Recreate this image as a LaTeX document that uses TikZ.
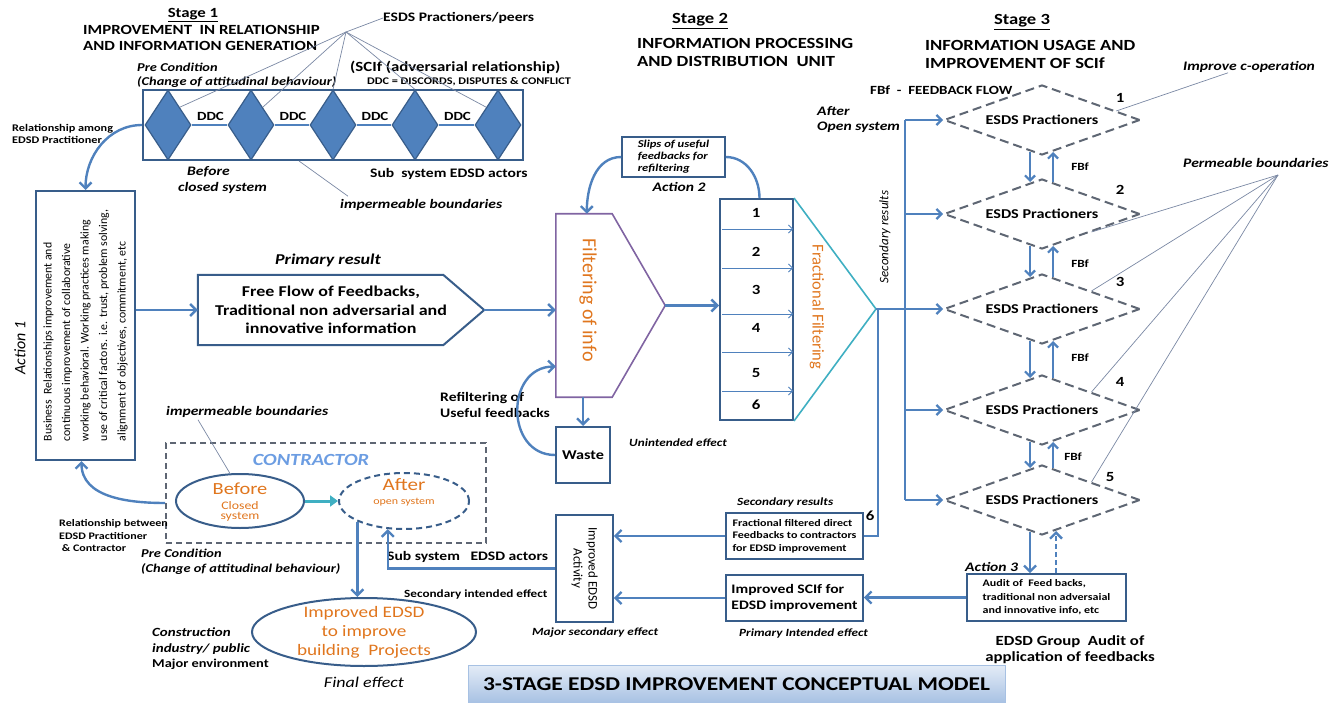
\documentclass[tikz,border=0pt]{standalone}
\usepackage{fontspec}
\setmainfont{Carlito}[FakeStretch=1.2]
\newfontfamily\plainfont{Carlito}
\usetikzlibrary{positioning,shapes.geometric,arrows.meta,calc}
\definecolor{ebBlue}{HTML}{4F81BD}
\definecolor{ebDark}{HTML}{385D8A}
\definecolor{ebGray}{HTML}{5E6673}
\definecolor{ebThin}{HTML}{7A88A3}
\definecolor{ebTeal}{HTML}{3FAFC2}
\definecolor{ebPurple}{HTML}{8064A2}
\definecolor{ebOrange}{HTML}{E0761E}
\definecolor{ebLight}{HTML}{6C9DE2}
\definecolor{ebTitleT}{HTML}{E4ECF7}
\definecolor{ebTitleB}{HTML}{A7C1E3}
\tikzset{
	flow/.style={draw=ebBlue, line width=2.4pt, -{Straight Barb[length=6pt,width=12pt]}},
	flowsm/.style={draw=ebBlue, line width=2.2pt, -{Straight Barb[length=5pt,width=10pt]}},
	flowline/.style={draw=ebBlue, line width=2.4pt},
	thinarrow/.style={draw=ebBlue, line width=0.8pt, -{Straight Barb[length=4pt,width=8pt]}},
	hint/.style={draw=ebThin, line width=0.7pt},
	bx/.style={draw=ebDark, line width=2pt, fill=white, inner sep=2pt},
	ddcdiam/.style={diamond, draw=ebDark, fill=ebBlue, line width=1.2pt, minimum width=46pt, minimum height=70pt, inner sep=0pt},
	esds/.style={diamond, draw=ebGray, dash pattern=on 9pt off 5pt, line width=2pt, minimum width=196pt, minimum height=70pt, aspect=2.8, inner sep=0pt, font=\bfseries\fontsize{13.5}{15}\selectfont},
	lb/.style 2 args={inner sep=0pt, font=\bfseries\fontsize{#1}{#2}\selectfont},
	li/.style 2 args={inner sep=0pt, font=\bfseries\itshape\fontsize{#1}{#2}\selectfont},
	lr/.style 2 args={inner sep=0pt, font=\fontsize{#1}{#2}\selectfont},
	lit/.style 2 args={inner sep=0pt, font=\itshape\fontsize{#1}{#2}\selectfont},
	rr/.style 2 args={inner sep=0pt, font=\plainfont\fontsize{#1}{#2}\selectfont},
	rit/.style 2 args={inner sep=0pt, font=\plainfont\itshape\fontsize{#1}{#2}\selectfont},
	orng/.style 2 args={inner sep=0pt, text=ebOrange, font=\fontsize{#1}{#2}\selectfont}
}
\begin{document}
\begin{tikzpicture}[x=1pt,y=-1pt]
	\useasboundingbox (0,0) rectangle (1343,703);

	\node[lb={14}{18}] (st1) at (193,15) {\underline{Stage 1}};
	\node[lb={14}{18}, anchor=west] (st1a) at (83,30) {IMPROVEMENT\ \ IN RELATIONSHIP};
	\node[lb={14}{18}, anchor=west] (st1b) at (83,46) {AND INFORMATION GENERATION};
	\node[lb={15.5}{18}] (st2) at (700,21) {\underline{Stage 2}};
	\node[lb={15.5}{18}, anchor=west] (st2a) at (637,43) {INFORMATION PROCESSING};
	\node[lb={15.5}{18}, anchor=west] (st2b) at (637,61) {AND DISTRIBUTION\ \ UNIT};
	\node[lb={15.5}{18}] (st3) at (1022,22) {\underline{Stage 3}};
	\node[lb={15.5}{18}, anchor=west] (st3a) at (925,45) {INFORMATION USAGE AND};
	\node[lb={15.5}{18}, anchor=west] (st3b) at (925,63) {IMPROVEMENT OF SCIf};

	\node[lb={13}{15}, anchor=west] (peers) at (383,18) {ESDS Practioners/peers};
	\node[li={12}{14}, anchor=west] (pre1) at (137,67) {Pre Condition};
	\node[li={12}{14}, anchor=west] (pre1b) at (137,82) {(Change of attitudinal behaviour)};
	\node[lb={14}{16}, anchor=west] (scif1) at (350,67) {(SCIf (adversarial relationship)};
	\node[lb={10.2}{12}, anchor=west] (ddckey) at (367,82) {DDC = DISCORDS, DISPUTES \& CONFLICT};
	\node[bx, minimum width=380pt, minimum height=70pt] (s1box) at (333,125) {};
	\foreach \n/\x in {1/168,2/251,3/333,4/415,5/498}
		\node[ddcdiam] (dd\n) at (\x,125) {};
	\foreach \a/\b in {1/2,2/3,3/4,4/5} {
		\draw[ebBlue, line width=2pt] (dd\a.east) -- (dd\b.west);
		\node[lb={12.5}{14}] (ddc\a) at ($(dd\a.east)!0.5!(dd\b.west)+(1,-9)$) {DDC};
	}
	\coordinate (pfan) at (346,32);
	\draw[hint] (pfan) -- (peers.west);
	\foreach \tgt in {dd1.north east, dd2.north east, dd3.north, dd4.north, dd5.north west}
		\draw[hint] (pfan) -- (\tgt);
	\node[lb={10.2}{12.5}, anchor=west, align=left] (rel1) at (12,134) {Relationship among\\EDSD Practitioner};
	\node[li={13}{15}, anchor=west] (bef1) at (187,172) {Before};
	\node[li={13}{15}, anchor=west] (bef1b) at (178,188) {closed system};
	\node[lb={13}{15}, anchor=west] (sub1) at (370,174) {Sub\ \ system EDSD actors};
	\node[li={13}{15}, anchor=west] (imp1) at (340,205) {impermeable boundaries};
	\draw[hint] ($(s1box.south west)+(157,0)$) -- ($(imp1.north west)+(8,-3)$);

	\node[bx, minimum width=99pt, minimum height=269pt] (act1) at (85.5,325.5) {};
	\node[rr={11.8}{18.5}, rotate=90, align=left] (act1txt) at (act1.center) {Business\ \ Relationships improvement and\\continuous improvement of collaborative\\working behavioral. Working practices making\\use of critical factors. i.e. trust, problem solving,\\alignment of objectives, commitment, etc};
	\node[rit={16}{20}, rotate=90] (act1lbl) at (20,348) {Action 1};

	\node[li={15}{17}] (prim) at (328,260) {Primary result};
	\node[lb={15}{18.5}, align=center, minimum width=266pt, minimum height=70pt] (free) at (331,310) {Free Flow of Feedbacks,\\Traditional non adversarial and\\innovative information};
	\draw[ebDark, line width=2pt] (free.north west) -- ($(free.north east)+(-21,0)$) -- ($(free.east)+(20,0)$) coordinate (freetip) -- ($(free.south east)+(-21,0)$) -- (free.south west) -- cycle;

	\node[minimum width=109pt, minimum height=183pt, inner sep=0pt] (filt) at (610.5,305.5) {};
	\draw[ebPurple, line width=1.6pt] (filt.north west) -- ($(filt.north east)+(-53,0)$) -- (filt.east) -- ($(filt.south east)+(-53,0)$) -- (filt.south west) -- cycle;
	\node[rr={20}{24}, text=ebOrange, rotate=-90] (filttxt) at (588,300) {Filtering of info};

	\node[bx, minimum width=103pt, minimum height=40pt, line width=1.6pt, li={10.5}{12}, align=left] (slips) at (673.5,157) {Slips of useful\\feedbacks for\\refiltering};
	\node[li={13}{15}] (act2) at (679,187) {Action 2};

	\node[bx, minimum width=73pt, minimum height=221pt] (frac) at (756.5,309.5) {};
	\coordinate (apex) at (876,309);
	\draw[ebTeal, line width=1.6pt] (frac.north east) -- (apex) -- (frac.south east);
	\foreach \y in {229,268,314,352,391}
		\draw[thinarrow] (722,\y) -- (793,\y);
	\foreach \n/\y in {1/213,2/252,3/290,4/328,5/373,6/405}
		\node[lb={14}{16}] (num\n) at (756,\y) {\n};
	\node[rr={16.5}{19}, text=ebOrange, rotate=-90] (fractxt) at (817,307) {Fractional Filtering};

	\node[bx, minimum width=54pt, minimum height=56pt, lb={13.5}{15}] (waste) at (583,455) {Waste};
	\node[lb={13}{16}, anchor=west, align=left] (refil) at (440,405) {Refiltering of\\Useful feedbacks};
	\node[li={11}{13}, anchor=west] (unint) at (629,443) {Unintended effect};

	\node[lb={12.5}{14}, anchor=west] (fbfkey) at (870,90) {FBf\ \ -\ \ FEEDBACK FLOW};
	\node[li={13}{15}, anchor=west, align=left] (after1) at (817,120) {After\\Open system};
	\node[rit={13}{15}, rotate=90] (secres) at (885,237) {Secondary results};
	\node[li={13}{15}, anchor=west] (impcop) at (1183,67) {Improve c-operation};
	\node[li={13}{15}, anchor=west] (perm) at (1183,163) {Permeable boundaries};

	\foreach \n/\y in {1/120,2/214,3/309,4/410,5/500}
		\node[esds] (es\n) at (1042,\y) {ESDS Practioners};
	\foreach \a/\b in {1/2,2/3,3/4,4/5} {
		\draw[flowsm] ($(es\a.south)+(-12,-4)$) -- ($(es\b.north)+(-12,4)$);
		\draw[flowsm] ($(es\b.north)+(11,4)$) -- ($(es\a.south)+(11,-4)$);
	}
	\foreach \n/\x/\y in {1/1080/167,2/1080/264,3/1080/358,4/1073/457}
		\node[lb={11}{13}] (fbf\n) at (\x,\y) {FBf};
	\foreach \n/\x/\y in {1/1120/98,2/1120/190,3/1120/282,4/1120/382,5/1110/477}
		\node[lb={14}{16}] (esn\n) at (\x,\y) {\n};
	\draw[hint] ($(es1.north east)!0.5!(es1.east)$) -- ($(impcop.south west)+(45,0)$);
	\coordinate (pfan2) at (1278,175);
	\foreach \tgt in {es2.south east, es3.north east, es4.north east, es5.north east}
		\draw[hint] (pfan2) -- (\tgt);

	\coordinate (trunk) at (905,0);
	\draw[flowline] (es1.west -| trunk) -- (es5.west -| trunk);
	\foreach \n in {1,2,4,5}
		\draw[flowsm] (es\n.west -| trunk) -- (es\n.west);
	\draw[flowsm] (apex) -- (es3.west);

	\node[li={11}{13}, anchor=west] (sec2) at (737,503) {Secondary results};
	\node[bx, minimum width=137pt, minimum height=46pt, line width=1.6pt, lb={10}{12.5}, align=left] (ffd) at (794.5,536) {Fractional filtered direct\\Feedbacks to contractors\\for EDSD improvement};
	\node[lb={14}{16}] (six) at (870,516) {6};
	\node[bx, minimum width=137pt, minimum height=46pt, line width=1.6pt, lb={13}{16}, align=left] (scif) at (794.5,598) {Improved SCIf for\\EDSD improvement};
	\node[li={11}{13}, anchor=west] (primint) at (739,633) {Primary Intended effect};
	\node[bx, minimum width=159pt, minimum height=47pt, line width=1.6pt, lb={10}{13.5}, align=left] (audit) at (1046.5,597.5) {Audit of\ \ Feed backs,\\traditional non adversaial\\and innovative info, etc};
	\node[li={13}{15}, anchor=west] (act3) at (965,567) {Action 3};
	\node[lb={14}{16}, align=center] (group) at (1070,650) {EDSD Group\ \ Audit of\\application of feedbacks};

	\node[bx, minimum width=57pt, minimum height=107pt, line width=1.6pt] (act) at (584.5,568.5) {};
	\node[rr={13}{15}, rotate=-90, align=center] (acttxt) at (act.center) {Improved EDSD\\Activity};
	\node[li={11}{13}, anchor=west] (majsec) at (532,633) {Major secondary effect};

	\node[draw=ebGray, dash pattern=on 6pt off 4pt, line width=1.6pt, minimum width=320pt, minimum height=100pt] (cbox) at (326,493) {};
	\node[inner sep=0pt, text=ebLight, font=\bfseries\itshape\fontsize{17}{19}\selectfont] (contr) at (311,460) {CONTRACTOR};
	\node[li={13}{14}, anchor=west] (imp2) at (166,412) {impermeable boundaries};
	\node[ellipse, draw=ebDark, line width=2pt, minimum width=128pt, minimum height=54pt, inner sep=0pt] (before) at (240,501) {};
	\node[orng={17}{19}] (befA) at (240,489) {Before};
	\node[orng={11.5}{13}] (befB) at (240,506) {Closed};
	\node[orng={11.5}{13}] (befC) at (240,517) {system};
	\node[ellipse, draw=ebDark, dash pattern=on 6pt off 4pt, line width=2pt, minimum width=130pt, minimum height=56pt, inner sep=0pt] (after) at (404,501) {};
	\node[orng={17.5}{19}] (aftA) at (404,485) {After};
	\node[orng={10}{12}] (aftB) at (404,502) {open system};
	\draw[ebTeal, line width=3pt, -{Triangle[length=8pt,width=11pt]}] (before.east) -- (after.west);
	\draw[hint] ($(imp2.south west)+(32,2)$) -- (before.110);
	\node[lb={10}{12.5}, anchor=west, align=left] (rel2) at (59,536) {Relationship between\\EDSD Practitioner\\\ \& Contractor};
	\node[li={12}{15}, anchor=west, align=left] (pre2) at (141,562) {Pre Condition\\(Change of attitudinal behaviour)};
	\node[lb={13}{15}, anchor=west] (sub2) at (387,557) {Sub system\ \ \ EDSD actors};
	\node[lb={11}{12.5}, anchor=west] (secint) at (404,594) {Secondary intended effect};

	\node[ellipse, draw=ebDark, line width=2pt, minimum width=224pt, minimum height=68pt, inner sep=0pt] (impr) at (364,632) {};
	\node[inner sep=0pt, text=ebOrange, align=center, font=\fontsize{16}{19}\selectfont] (imprtxt) at (364,632) {Improved EDSD\\to improve\\building\ \ Projects};
	\node[li={12.5}{16}, anchor=west, align=left] (constr) at (152,641) {Construction\\industry/ public};
	\node[lb={12}{14}, anchor=west] (majenv) at (152,664) {Major environment};
	\node[lit={15}{17}] (final) at (364,682) {Final effect};

	\node[draw=ebTitleB, line width=1pt, top color=ebTitleT, bottom color=ebTitleB, minimum width=537pt, minimum height=38pt, lb={19.5}{22}] (title) at (736.5,684) {3-STAGE EDSD IMPROVEMENT CONCEPTUAL MODEL};

	\draw[flow] (s1box.west) to[out=180, in=90] (act1.north);
	\draw[flow] ($(cbox.west)+(0,10)$) to[out=180, in=-90] ([xshift=-4pt]act1.south);
	\draw[flow] (act1.east |- free.west) -- (free.west);
	\draw[flow] (freetip) -- (freetip -| filt.west);
	\draw[flow] (filt.east) -- (filt.east -| frac.west);
	\draw[flow] (slips.west) to[out=180, in=90] ($(filt.north west)+(31,0)$);
	\draw[flowline] (slips.east) to[out=0, in=90] ($(frac.north)+(3,0)$);
	\draw[flow] (waste.north |- filt.south) -- (waste.north);
	\draw[flow] (waste.west) .. controls (505,455) and (505,367) .. ($(filt.west)+(0,61)$);
	\draw[flowline] ($(apex)+(2,0)$) |- (ffd.east);
	\draw[flow] (ffd.west) -- (ffd.west -| act.east);
	\draw[flow] (scif.west) -- (scif.west -| act.east);
	\draw[flow] (audit.west) -- (audit.west -| scif.east);
	\coordinate (d5a) at ($(es5.south)+(-12,-4)$);
	\coordinate (d5b) at ($(es5.south)+(14,-5)$);
	\draw[flow] (d5a) -- (d5a |- audit.north);
	\draw[flow, dash pattern=on 5pt off 3pt] (d5b |- audit.north) -- (d5b);
	\draw[flow] (act.west) -| (after.240);
	\draw[flow] (after.south west) -- (after.south west |- impr.north);
\end{tikzpicture}
\end{document}
